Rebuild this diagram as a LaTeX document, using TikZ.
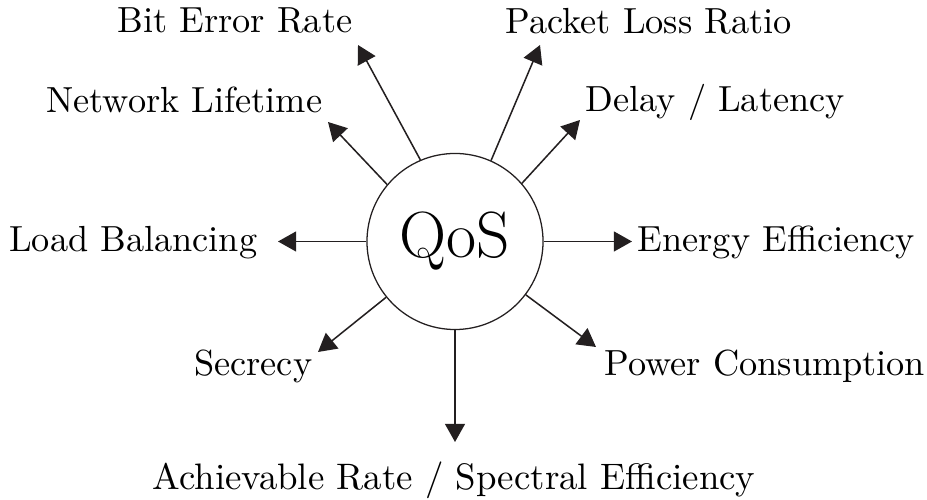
\documentclass[tikz,border=0pt]{standalone}
\usepackage{fontspec}
\setmainfont{Latin Modern Roman}
\usetikzlibrary{arrows.meta}
\definecolor{ink}{RGB}{35,31,32}
\begin{document}
\begin{tikzpicture}[x=0.2755pt,y=-0.2755pt,
  lbl/.style={inner sep=0pt,font=\fontsize{10}{12}\selectfont,text=black},
  conn/.style={draw=ink,line width=0.42pt,-{Triangle[length=5pt,width=5.5pt]}},
  hub/.style={circle,draw=ink,line width=0.35pt,minimum size=48.5pt,inner sep=0pt,font=\fontsize{18}{20}\selectfont}]
\useasboundingbox (0,0) rectangle (927,500);
\node[hub] (q) at (455,241.5) {QoS};
% tip coordinates
\coordinate (tL) at (278,241.5);
\coordinate (tE) at (632,241.5);
\coordinate (tA) at (455,442);
\coordinate (tS) at (318,352);
\coordinate (tP) at (596,347);
\coordinate (tN) at (328,122);
\coordinate (tB) at (358,45);
\coordinate (tK) at (540,45);
\coordinate (tD) at (580,120);
% labels
\node[lbl,anchor=base east] (lB) at (353,33) {Bit Error Rate};
\node[lbl,anchor=base east] (lN) at (323,113) {Network Lifetime};
\node[lbl,anchor=base west] (lK) at (505,34) {Packet Loss Ratio};
\node[lbl,anchor=base west] (lD) at (585,112) {Delay / Latency};
\node[lbl,anchor=base east] (lL) at (258,252) {Load Balancing};
\node[lbl,anchor=base west] (lE) at (637,252) {Energy Efficiency};
\node[lbl,anchor=base east] (lS) at (313,376) {Secrecy};
\node[lbl,anchor=base west] (lP) at (604,376) {Power Consumption};
\node[lbl,anchor=base,font=\fontsize{10.15}{12}\selectfont] (lA) at (454,490) {Achievable Rate / Spectral Efficiency};
% connectors
\draw[conn] (q.180) -- (tL);
\draw[conn] (q.0) -- (tE);
\draw[conn] (q.270) -- (tA);
\draw[conn] (q.219) -- (tS);
\draw[conn] (q.323) -- (tP);
\draw[conn] (q.140) -- (tN);
\draw[conn] (q.113) -- (tB);
\draw[conn] (q.66) -- (tK);
\draw[conn] (q.41) -- (tD);
\end{tikzpicture}
\end{document}
